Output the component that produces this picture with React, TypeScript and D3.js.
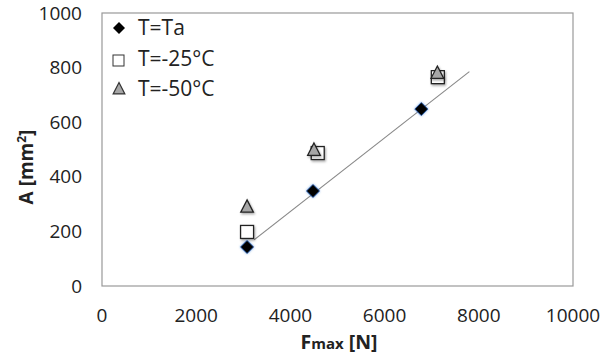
import React from "react";
import * as d3 from "d3";

const xTicks = [0, 2000, 4000, 6000, 8000, 10000];
const yTicks = [0, 200, 400, 600, 800, 1000];
const seriesNames = ["T=Ta", "T=-25°C", "T=-50°C"];
const taX = [3080, 4480, 6780];
const taY = [143, 348, 648];
const m25X = [3080, 4580, 7130];
const m25Y = [198, 487, 765];
const m50X = [3080, 4500, 7120];
const m50Y = [290, 498, 780];
const trendX = [3230, 7800];
const trendSlope = 0.1348;
const trendIntercept = -266;

const W = 605, H = 361;
const L = 102, R = 573, T = 13, B = 286;

export default function App() {
  const x = d3.scaleLinear().domain([0, 10000]).range([L, R]);
  const y = d3.scaleLinear().domain([0, 1000]).range([B, T]);
  const font = "'Open Sans', Lato, sans-serif";
  const diamond = (cx: number, cy: number, s = 6.5) =>
    `M${cx},${cy - s}L${cx + s},${cy}L${cx},${cy + s}L${cx - s},${cy}Z`;
  const tri = (cx: number, cy: number, s = 7) =>
    `M${cx},${cy - s}L${cx + s * 0.9},${cy + s * 0.75}L${cx - s * 0.9},${cy + s * 0.75}Z`;
  const line = d3.line<number>().x((d) => x(d)).y((d) => y(trendSlope * d + trendIntercept));

  const squareMark = (cx: number, cy: number, key: string) => (
    <rect key={key} x={cx - 6.5} y={cy - 6.5} width={13} height={13} fill="#fff" stroke="#222" strokeWidth={1.3} filter="url(#sh)" />
  );
  const triMark = (cx: number, cy: number, key: string) => (
    <path key={key} d={tri(cx, cy)} fill="#a6a6a6" stroke="#222" strokeWidth={1.3} filter="url(#sh)" />
  );
  const diaMark = (cx: number, cy: number, key: string) => (
    <path key={key} d={diamond(cx, cy)} fill="#000" stroke="#1f4e9a" strokeWidth={0.8} filter="url(#glow)" />
  );

  return (
    <svg width={W} height={H} style={{ position: "absolute", left: 0, top: 0, background: "#fff" }}>
      <defs>
        <filter id="sh" x="-50%" y="-50%" width="200%" height="200%">
          <feDropShadow dx="1" dy="1.5" stdDeviation="1" floodColor="#000" floodOpacity="0.35" />
        </filter>
        <filter id="glow" x="-50%" y="-50%" width="200%" height="200%">
          <feDropShadow dx="0" dy="0" stdDeviation="1.2" floodColor="#2a6fd6" floodOpacity="0.7" />
        </filter>
      </defs>
      <rect x={L} y={T} width={R - L} height={B - T} fill="none" stroke="#999" strokeWidth={1.2} />
      {yTicks.map((t) => (
        <text key={"y" + t} x={82} y={y(t) + 6.5} textAnchor="end" fontFamily={font} fontSize={19} fill="#222">
          {t}
        </text>
      ))}
      {xTicks.map((t) => (
        <text key={"x" + t} x={x(t)} y={322} textAnchor="middle" fontFamily={font} fontSize={19} fill="#222">
          {t}
        </text>
      ))}
      <text transform={`translate(33,167) rotate(-90)`} textAnchor="middle" fontFamily={font} fontSize={19} fontWeight="bold" fill="#222">
        A [mm<tspan dy={-7} fontSize={12}>2</tspan><tspan dy={7}>]</tspan>
      </text>
      <text x={339} y={349} textAnchor="middle" fontFamily={font} fontSize={19.5} fontWeight="bold" fill="#222">
        F<tspan fontSize={15}>max</tspan> [N]
      </text>
      <path d={line(trendX) || ""} stroke="#888" strokeWidth={1.1} fill="none" />
      {m25X.map((v, i) => squareMark(x(v), y(m25Y[i]), "s" + i))}
      {m50X.map((v, i) => triMark(x(v), y(m50Y[i]), "t" + i))}
      {taX.map((v, i) => diaMark(x(v), y(taY[i]), "d" + i))}
      {/* legend */}
      <path d={diamond(119, 28, 6)} fill="#000" />
      <rect x={113} y={55} width={11} height={11} fill="#fff" stroke="#333" strokeWidth={1} />
      <path d={tri(119, 89, 6.5)} fill="#a6a6a6" stroke="#333" strokeWidth={1.2} />
      {seriesNames.map((n, i) => (
        <text key={n} x={138} y={[35, 66, 96][i]} fontFamily={font} fontSize={21} fill="#222">
          {n}
        </text>
      ))}
    </svg>
  );
}
